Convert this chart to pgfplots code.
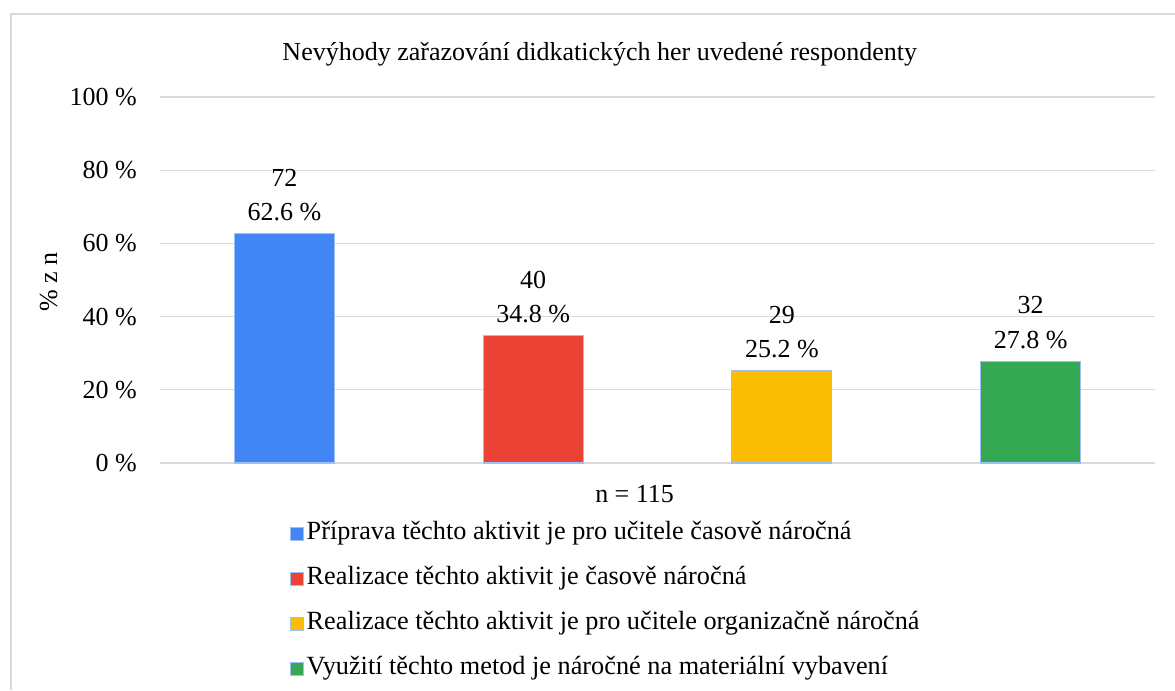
\documentclass[border=0pt]{standalone}
\usepackage{pgfplots}
\pgfplotsset{compat=1.18}
\usepackage{fontspec}
\setmainfont{Liberation Serif}
\definecolor{gblue}{HTML}{4285F4}
\definecolor{gred}{HTML}{EA4335}
\definecolor{gyellow}{HTML}{FBBC04}
\definecolor{ggreen}{HTML}{34A853}
\definecolor{edge}{HTML}{9DC1F7}
\definecolor{gridgray}{HTML}{D9D9D9}
\definecolor{bordergray}{HTML}{D9D9D9}
\newcommand{\fs}{\fontsize{19.5pt}{26pt}\selectfont}
\begin{document}
\begin{tikzpicture}
\useasboundingbox (0,0) rectangle (881.25pt,-517.5pt);
\draw[color=bordergray, line width=1.5pt] (8.25pt,-517.5pt) -- (8.25pt,-10.5pt) -- (881.25pt,-10.5pt);
\begin{axis}[
  at={(120pt,-347.25pt)}, anchor=south west,
  scale only axis, width=746.25pt, height=274.5pt,
  xmin=-0.5, xmax=3.5, ymin=0, ymax=100,
  ytick={0,20,40,60,80,100},
  yticklabels={0 \%,20 \%,40 \%,60 \%,80 \%,100 \%},
  yticklabel style={font=\fs, anchor=east, inner sep=0pt, xshift=-17.25pt},
  xtick=\empty,
  ymajorgrids, grid style={gridgray, line width=1pt},
  axis line style={draw=none},
  major tick length=0pt,
  clip=false,
  title={Nevýhody zařazování didkatických her uvedené respondenty},
  title style={font=\fs, at={(0.442,1.096)}, anchor=center, inner sep=0pt},
  ylabel={\% z n},
  ylabel style={font=\fs, at={(-0.112,0.495)}, anchor=center, inner sep=0pt},
  xlabel={n = 115},
  xlabel style={font=\fs, at={(0.477,-0.085)}, anchor=center, inner sep=0pt},
  legend style={at={(0.1307,-0.161)}, anchor=north west, draw=none, fill=none,
    inner xsep=0pt, inner ysep=0pt, font=\fontsize{19.7pt}{26pt}\selectfont, row sep=15.75pt,
    nodes={inner xsep=2pt, inner ysep=0pt, text height=13pt, text depth=5pt}},
  legend cell align=left,
  legend image code/.code={\draw[#1, line width=0.8pt] (0pt,-4.5pt) rectangle (9.5pt,5pt);},
  nodes near coords style={font=\fs, align=center, anchor=south, inner sep=0pt, yshift=9pt},
]
\addplot[ybar, bar width=75pt, bar shift=0pt, fill=gblue, draw=edge, line width=0.8pt,
  nodes near coords={72\\62.6 \%}] coordinates {(0,62.6)};
\addlegendentry{Příprava těchto aktivit je pro učitele časově náročná}
\addplot[ybar, bar width=75pt, bar shift=0pt, fill=gred, draw=edge, line width=0.8pt,
  nodes near coords={40\\34.8 \%}] coordinates {(1,34.8)};
\addlegendentry{Realizace těchto aktivit je časově náročná}
\addplot[ybar, bar width=75pt, bar shift=0pt, fill=gyellow, draw=edge, line width=0.8pt,
  nodes near coords={29\\25.2 \%}] coordinates {(2,25.2)};
\addlegendentry{Realizace těchto aktivit je pro učitele organizačně náročná}
\addplot[ybar, bar width=75pt, bar shift=0pt, fill=ggreen, draw=edge, line width=0.8pt,
  nodes near coords={32\\27.8 \%}] coordinates {(3,27.8)};
\addlegendentry{Využití těchto metod je náročné na materiální vybavení}
\end{axis}
\end{tikzpicture}
\end{document}
